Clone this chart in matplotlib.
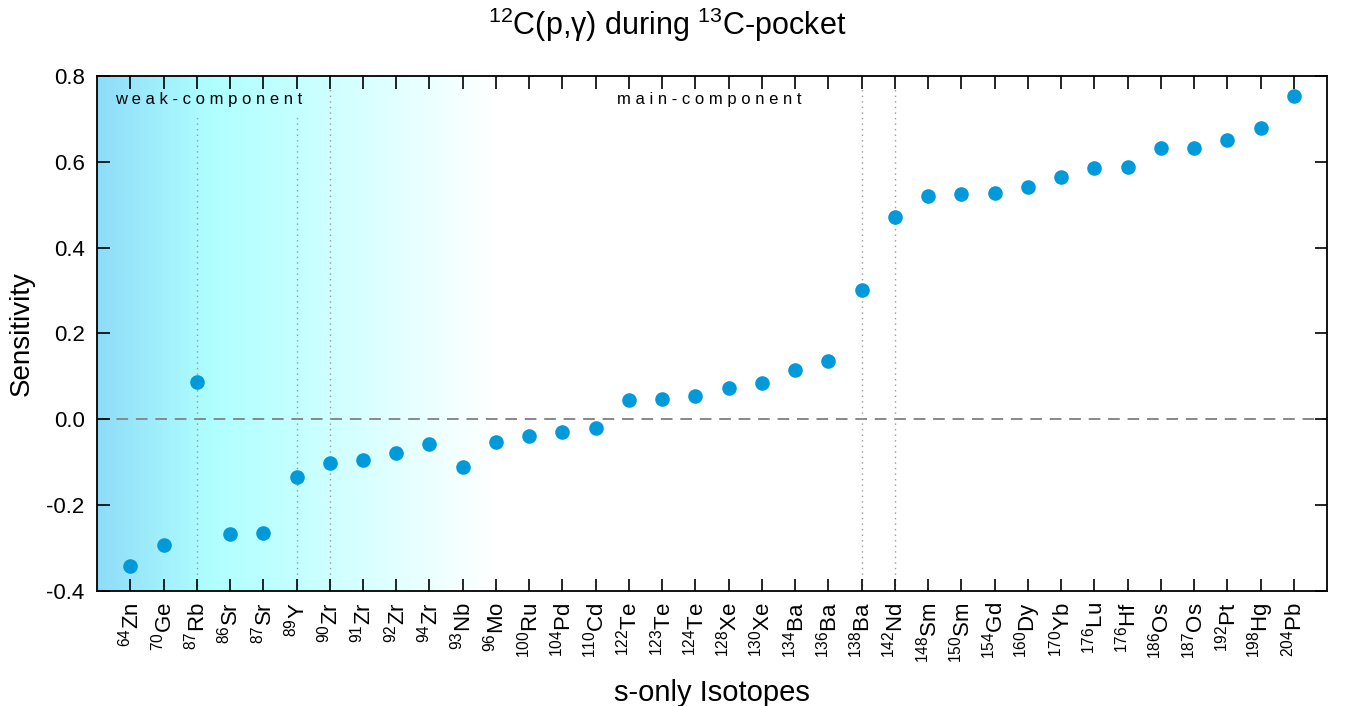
import numpy as np
import matplotlib
matplotlib.use("Agg")
import matplotlib.pyplot as plt
from matplotlib.colors import LinearSegmentedColormap

plt.rcParams['font.family'] = ['Liberation Sans', 'DejaVu Sans']
plt.rcParams['mathtext.fontset'] = 'custom'
plt.rcParams['mathtext.rm'] = 'Liberation Sans'
plt.rcParams['mathtext.it'] = 'Liberation Sans:italic'
plt.rcParams['mathtext.bf'] = 'Liberation Sans:bold'

masses = ["64", "70", "87", "86", "87", "89", "90", "91", "92", "94", "93", "96",
          "100", "104", "110", "122", "123", "124", "128", "130", "134", "136", "138",
          "142", "148", "150", "154", "160", "170", "176", "176", "186", "187", "192",
          "198", "204"]
elements = ["Zn", "Ge", "Rb", "Sr", "Sr", "Y", "Zr", "Zr", "Zr", "Zr", "Nb", "Mo",
            "Ru", "Pd", "Cd", "Te", "Te", "Te", "Xe", "Xe", "Ba", "Ba", "Ba",
            "Nd", "Sm", "Sm", "Gd", "Dy", "Yb", "Lu", "Hf", "Os", "Os", "Pt",
            "Hg", "Pb"]
sensitivity = [-0.342, -0.294, 0.087, -0.268, -0.266, -0.134, -0.102, -0.095, -0.079,
               -0.058, -0.110, -0.052, -0.039, -0.030, -0.020, 0.045, 0.047, 0.054,
               0.073, 0.085, 0.115, 0.135, 0.301, 0.472, 0.520, 0.524, 0.528, 0.541,
               0.565, 0.586, 0.589, 0.631, 0.633, 0.650, 0.679, 0.754]

labels = [r"$^{%s}$%s" % (m, e) for m, e in zip(masses, elements)]
x = np.arange(len(labels))

fig = plt.figure(figsize=(13.46, 7.06), dpi=100)
ax = fig.add_axes([0.0721, 0.1629, 0.9138, 0.7295])

xmin, xmax = -1, len(labels)
ymin, ymax = -0.4, 0.8

# gradient background for weak component
cmap = LinearSegmentedColormap.from_list(
    "weak", [(0.0, "#8edcf8"), (0.29, "#b0ffff"), (0.45, "#bfffff"),
             (0.7, "#dcffff"), (1.0, "#ffffff")])
grad = np.linspace(0, 1, 256).reshape(1, -1)
ax.imshow(grad, extent=[xmin, 11.0, ymin, ymax], aspect='auto', cmap=cmap,
          zorder=0, interpolation='bilinear')

ax.axhline(0, color='#888888', lw=1.4, ls=(0, (6, 4)), zorder=1)

# vertical dotted lines
for xi, ytop in [(2, 0.71), (5, 0.71), (6, 0.775), (22, 0.775), (23, 0.775)]:
    ax.plot([xi, xi], [ymin, ytop], color='#999999', lw=1.0, ls=(0, (1, 3)), zorder=1)

ax.plot(x, sensitivity, 'o', color='#0099da', markersize=10.5, markeredgewidth=0, zorder=3)

ax.text(-0.46, 0.746, "w e a k - c o m p o n e n t", fontsize=12, ha='left', va='center')
ax.text(14.64, 0.746, "m a i n - c o m p o n e n t", fontsize=12, ha='left', va='center')

ax.set_xlim(xmin, xmax)
ax.set_ylim(ymin, ymax)
ax.set_xticks(x)
ax.set_xticklabels(labels, rotation=90, fontsize=16)
ax.set_yticks(np.arange(-0.4, 0.81, 0.2))
ax.set_yticklabels(["-0.4", "-0.2", "0.0", "0.2", "0.4", "0.6", "0.8"], fontsize=16)
ax.tick_params(direction='in', top=True, right=True, length=9, width=1.2)
ax.tick_params(axis='x', pad=8)
ax.tick_params(axis='y', pad=9)
for s in ax.spines.values():
    s.set_linewidth(1.3)

ax.set_xlabel("s-only Isotopes", fontsize=21, labelpad=12)
ax.set_ylabel("Sensitivity", fontsize=20, labelpad=8)
fig.text(667 / 1346, 1 - 25 / 706, "$^{12}$C(p,γ) during $^{13}$C-pocket",
         fontsize=22, ha='center', va='center')

fig.savefig("out.png", dpi=100)
